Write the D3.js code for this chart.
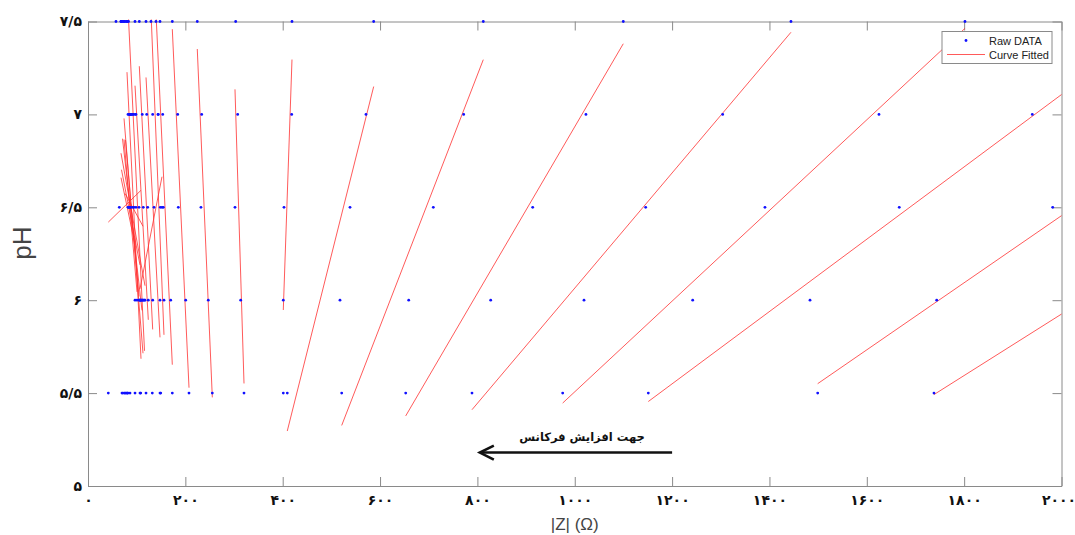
<!DOCTYPE html>
<html lang="fa">
<head>
<meta charset="UTF-8">
<title>pH vs |Z|</title>
<script src="https://cdn.jsdelivr.net/npm/d3@7"></script>
<style>
    body { margin: 0; background: #fff; }
    svg { display: block; }
</style>
</head>
<body>
<script>
    // |Z| (ohm) of every frequency at each pH level, low |Z| (high frequency) first
    var pHLevels = [5.5, 6, 6.5, 7, 7.5];
    var zAt55 = [41.7, 69.8, 96.6, 80.1, 80.1, 76.0, 106.8, 76.0, 86.3, 147.9, 82.2, 71.9, 108.3, 119.2, 132.1, 149.4, 173.2, 207.5, 255.4, 320.5, 401.2, 409.4, 521.2, 652.7, 788.9, 975.2, 1151.1, 1499.1, 1738];
    var zAt60 = [108.9, 96.6, 108.9, 100.7, 110.9, 113.0, 116.1, 117.1, 113.0, 106.8, 104.8, 106.8, 123.9, 132.9, 147.9, 156.1, 169.9, 200.7, 247.1, 313.7, 401.2, 517.7, 658.9, 827.3, 1019, 1242.3, 1483.3, 1743.6, 2050];
    var zAt65 = [64.3, 82.2, 98.6, 86.3, 84.2, 92.4, 104.8, 86.3, 88.3, 152.0, 94.5, 83.2, 113.6, 122.6, 135.6, 148.5, 154.7, 185.5, 232.1, 302.0, 402.7, 538.3, 709.4, 913.6, 1145.7, 1390.8, 1666.7, 1981.9, 2350];
    var zAt70 = [92.4, 86.3, 84.2, 88.3, 88.3, 96.6, 98.6, 92.4, 82.2, 143.8, 86.3, 88.3, 111.5, 120.6, 132.9, 144.4, 153.5, 184.3, 233.6, 307.5, 418.5, 571.1, 771.8, 1023, 1303.9, 1625, 1940, 2300, 2650];
    var zAt75 = [57.5, 67.8, 80.1, 74.0, 70.9, 80.1, 83.2, 67.8, 74.0, 147.9, 77.0, 68.8, 96.6, 105.4, 119.2, 129.4, 139.7, 173.2, 224.5, 303.4, 419.1, 586.9, 812.1, 1099.7, 1444.2, 1801.7, 2200, 2600, 2950];

    var xTicks = [0, 200, 400, 600, 800, 1000, 1200, 1400, 1600, 1800, 2000];
    var xTickLabels = ["۰", "۲۰۰", "۴۰۰", "۶۰۰", "۸۰۰", "۱۰۰۰", "۱۲۰۰", "۱۴۰۰", "۱۶۰۰", "۱۸۰۰", "۲۰۰۰"];
    var yTicks = [5, 5.5, 6, 6.5, 7, 7.5];
    var yTickLabels = ["۵", "۵/۵", "۶", "۶/۵", "۷", "۷/۵"];

    var arrowNote = "جهت افزایش فرکانس";
    var arrowFrom = [1200, 5.18], arrowTo = [805, 5.18];
    var notePos = [1015, 5.24];

    var widthSVG = 1075, heightSVG = 535;
    var plot = {left: 88, right: 1061.5, top: 21.5, bottom: 486};

    var svg = d3.select("body").append("svg")
                .attr("width", widthSVG)
                .attr("height", heightSVG);

    var scaleX = d3.scaleLinear().domain([0, 2000]).range([plot.left, plot.right]);
    var scaleY = d3.scaleLinear().domain([5, 7.5]).range([plot.bottom, plot.top]);

    svg.append("clipPath").attr("id", "plotClip")
        .append("rect")
        .attr("x", plot.left).attr("y", plot.top - 2)
        .attr("width", plot.right - plot.left).attr("height", plot.bottom - plot.top + 2);

    // one array of points per frequency
    var series = zAt55.map(function (d, i) {
        return [zAt55[i], zAt60[i], zAt65[i], zAt70[i], zAt75[i]].map(function (z, k) {
            return {z: z, pH: pHLevels[k]};
        });
    });

    // least squares line pH = a + b*|Z| over the range of the raw data
    function fitLine(pts) {
        var mz = d3.mean(pts, function (p) { return p.z; });
        var mp = d3.mean(pts, function (p) { return p.pH; });
        var sxy = d3.sum(pts, function (p) { return (p.z - mz) * (p.pH - mp); });
        var sxx = d3.sum(pts, function (p) { return (p.z - mz) * (p.z - mz); });
        var b = sxy / sxx, a = mp - b * mz;
        var ext = d3.extent(pts, function (p) { return p.z; });
        return ext.map(function (z) { return {z: z, pH: a + b * z}; });
    }

    var line = d3.line()
                .x(function (d) { return scaleX(d.z); })
                .y(function (d) { return scaleY(d.pH); });

    // axes box with inward ticks
    var axisColor = "#8a8a8a";
    function styleAxis(g) {
        g.select(".domain").attr("stroke", axisColor);
        g.selectAll(".tick line").attr("stroke", axisColor);
        g.selectAll(".tick text")
            .attr("fill", "#111")
            .attr("font-family", "DejaVu Sans")
            .attr("font-weight", "bold")
            .attr("font-size", "14px");
    }

    var gx = svg.append("g").attr("transform", "translate(0," + plot.bottom + ")")
        .call(d3.axisBottom(scaleX).tickValues(xTicks).tickSizeInner(-9).tickSizeOuter(0).tickPadding(9)
            .tickFormat(function (d, i) { return xTickLabels[i]; }))
        .call(styleAxis);
    gx.selectAll(".tick text").filter(function (d) { return d === 2000; }).attr("dx", "-3");
    svg.append("g").attr("transform", "translate(0," + plot.top + ")")
        .call(d3.axisTop(scaleX).tickValues(xTicks).tickSizeInner(-9).tickSizeOuter(0).tickFormat(""))
        .call(styleAxis);
    svg.append("g").attr("transform", "translate(" + plot.left + ",0)")
        .call(d3.axisLeft(scaleY).tickValues(yTicks).tickSizeInner(-9).tickSizeOuter(0).tickPadding(6)
            .tickFormat(function (d, i) { return yTickLabels[i]; }))
        .call(styleAxis);
    svg.append("g").attr("transform", "translate(" + plot.right + ",0)")
        .call(d3.axisRight(scaleY).tickValues(yTicks).tickSizeInner(-9).tickSizeOuter(0).tickFormat(""))
        .call(styleAxis);

    var inner = svg.append("g").attr("clip-path", "url(#plotClip)");

    // fitted lines
    inner.selectAll(".fit")
        .data(series)
        .enter()
        .append("path")
        .attr("class", "fit")
        .attr("d", function (d) { return line(fitLine(d)); })
        .attr("fill", "none")
        .attr("stroke", "#ff3030")
        .attr("stroke-width", 0.8);

    // raw points
    var allPoints = [].concat.apply([], series).filter(function (p) { return p.z <= 2000; });
    inner.selectAll(".raw")
        .data(allPoints)
        .enter()
        .append("circle")
        .attr("class", "raw")
        .attr("cx", function (d) { return scaleX(d.z); })
        .attr("cy", function (d) { return scaleY(d.pH); })
        .attr("r", 1.4)
        .attr("fill", "#1010ff");

    // legend
    var legend = svg.append("g").attr("transform", "translate(942,31.5)");
    legend.append("rect").attr("width", 110).attr("height", 32)
        .attr("fill", "#fff").attr("stroke", "#8a8a8a").attr("stroke-width", 1);
    legend.append("circle").attr("cx", 24).attr("cy", 9).attr("r", 1.4).attr("fill", "#1010ff");
    legend.append("line").attr("x1", 5).attr("x2", 43).attr("y1", 23).attr("y2", 23)
        .attr("stroke", "#ff3030").attr("stroke-width", 0.8);
    legend.append("text").attr("x", 47).attr("y", 13).text("Raw DATA")
        .attr("font-family", "Liberation Sans").attr("font-size", "11px").attr("fill", "#222");
    legend.append("text").attr("x", 47).attr("y", 27).text("Curve Fitted")
        .attr("font-family", "Liberation Sans").attr("font-size", "11px").attr("fill", "#222");

    // axis titles
    svg.append("text")
        .attr("x", (plot.left + plot.right) / 2).attr("y", 530)
        .attr("text-anchor", "middle")
        .attr("font-family", "Liberation Sans").attr("font-size", "17px").attr("fill", "#444")
        .text("|Z| (Ω)");
    svg.append("text")
        .attr("transform", "translate(31,243) rotate(-90)")
        .attr("text-anchor", "middle")
        .attr("font-family", "Liberation Sans").attr("font-size", "26px").attr("fill", "#444")
        .text("pH");

    // frequency direction arrow
    svg.append("text")
        .attr("x", scaleX(notePos[0])).attr("y", scaleY(notePos[1]))
        .attr("text-anchor", "middle")
        .attr("direction", "rtl")
        .attr("font-family", "DejaVu Sans").attr("font-weight", "bold").attr("font-size", "11.5px")
        .attr("fill", "#111")
        .text(arrowNote);
    var ax0 = scaleX(arrowFrom[0]), ax1 = scaleX(arrowTo[0]), ay = scaleY(arrowFrom[1]);
    svg.append("line").attr("x1", ax0).attr("x2", ax1 + 1).attr("y1", ay).attr("y2", ay)
        .attr("stroke", "#111").attr("stroke-width", 2.6);
    svg.append("path")
        .attr("d", "M" + (ax1 + 14) + "," + (ay - 7) + "L" + ax1 + "," + ay + "L" + (ax1 + 14) + "," + (ay + 7))
        .attr("fill", "none").attr("stroke", "#111").attr("stroke-width", 2.6);
</script>
</body>
</html>
